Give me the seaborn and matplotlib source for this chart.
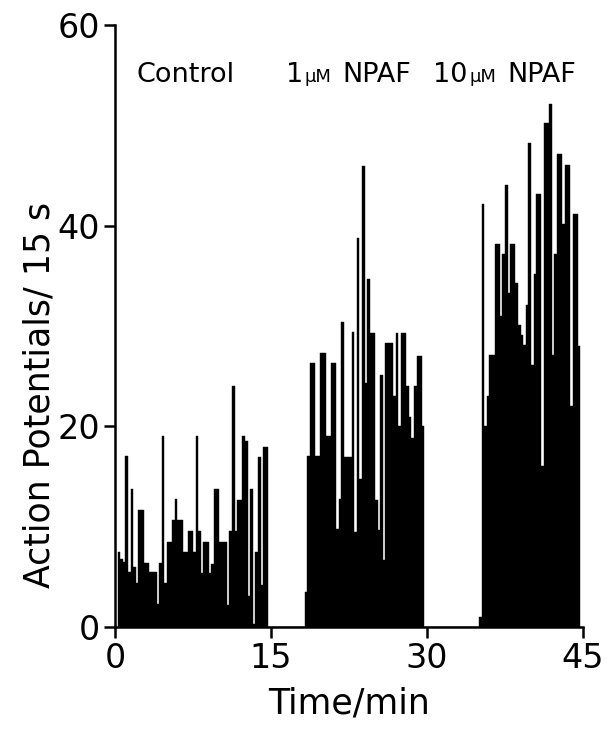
import numpy as np
import pandas as pd
import seaborn as sns
import matplotlib
matplotlib.use("Agg")
import matplotlib.pyplot as plt

# action potentials per 15 s bin
control = [7.5, 6.8, 6.5, 17, 5.5, 13.8, 6, 4.4, 11.7, 11.7,
           6.4, 6.4, 5.5, 5.5, 5.5, 2.3, 6.4, 19, 4.4, 8.5,
           8.5, 10.7, 12.8, 10.7, 10.7, 7.5, 7.5, 9.6, 9.6, 7.5,
           19, 9.6, 5.4, 8.5, 8.5, 5.4, 6.3, 13.8, 13.8, 8.5,
           8.5, 8.5, 2.2, 9.6, 24, 9.6, 12.7, 12.7, 19, 18.5,
           3.1, 13.8, 0.3, 7.5, 16.9, 4.2, 17.9, 17.9]
npaf_1 = [3.5, 17, 26.3, 26.3, 17, 17, 27.3, 27.3, 19, 19,
          26.3, 26.3, 9.8, 12.8, 30.4, 16.9, 16.9, 16.9, 29.4, 9.5,
          38.8, 14.8, 46, 24.3, 34.7, 29.3, 29.3, 12.7, 9.7, 25.1,
          6.7, 28.3, 28.3, 28.3, 23, 29.3, 20, 29.3, 29.3, 24,
          20.9, 18.8, 24, 27, 27, 20]
npaf_10 = [1, 42.2, 20, 23, 27.1, 27.1, 38.2, 38.2, 31, 37.2,
           44.1, 33.3, 38.2, 38.2, 34.3, 30.1, 29.1, 28.1, 32.1, 48.2,
           26.1, 35.2, 43.2, 43.2, 16, 50.2, 50.2, 52.1, 27.1, 37.2,
           47.2, 47.2, 40.2, 46.1, 46.1, 22, 41.2, 41.2, 28]

# start of each recording (min), bins are 15 s wide
starts = [0.25, 18.25, 35.0]
bin_w = 0.25

# condition labels: (number, unit, drug)
label_num = ["", "1", "10"]
label_unit = ["", "\u03bcM", "\u03bcM"]
label_drug = ["Control", "NPAF", "NPAF"]
label_x = [2.1, 16.4, 30.6]
label_y = 54.3

rows = []
for start, counts in zip(starts, [control, npaf_1, npaf_10]):
    for i, c in enumerate(counts):
        rows.append({"t": start + bin_w * i + bin_w / 2, "n": c})
df = pd.DataFrame(rows)

sns.set_style("ticks")
plt.rcParams['font.family'] = ['DejaVu Sans']
for k in ["text.color", "axes.labelcolor", "xtick.color", "ytick.color", "axes.edgecolor"]:
    plt.rcParams[k] = "black"

fig = plt.figure(figsize=(6.07, 7.34), dpi=100)
ax = fig.add_axes([0.1895, 0.1458, 0.771, 0.820])

sns.histplot(data=df, x="t", weights="n", binwidth=bin_w, binrange=(0, 45),
             color="black", alpha=1, edgecolor="black", linewidth=0.3, ax=ax)

ax.set_xlim(0, 45)
ax.set_ylim(0, 60)
ax.set_xticks([0, 15, 30, 45])
ax.set_yticks([0, 20, 40, 60])
sns.despine(ax=ax)
for s in ["left", "bottom"]:
    ax.spines[s].set_linewidth(1.8)
ax.tick_params(width=1.8, length=8, labelsize=24, pad=3)

ax.set_xlabel("Time/min", fontsize=25, labelpad=8)
ax.set_ylabel("Action Potentials/ 15 s", fontsize=25)
ax.yaxis.set_label_coords(-0.125, 0.385)

for x, num, unit, drug in zip(label_x, label_num, label_unit, label_drug):
    if not num:
        ax.text(x, label_y, drug, fontsize=19.5, va="baseline", ha="left")
        continue
    t1 = ax.text(x, label_y, num, fontsize=19.5, va="baseline", ha="left")
    t2 = ax.annotate(unit, xy=(1, label_y), xycoords=(t1, "data"), xytext=(1, 0),
                     textcoords="offset points", fontsize=13, va="baseline")
    ax.annotate(drug, xy=(1, label_y), xycoords=(t2, "data"), xytext=(8, 0),
                textcoords="offset points", fontsize=19.5, va="baseline")

fig.savefig("out.png", dpi=100)
